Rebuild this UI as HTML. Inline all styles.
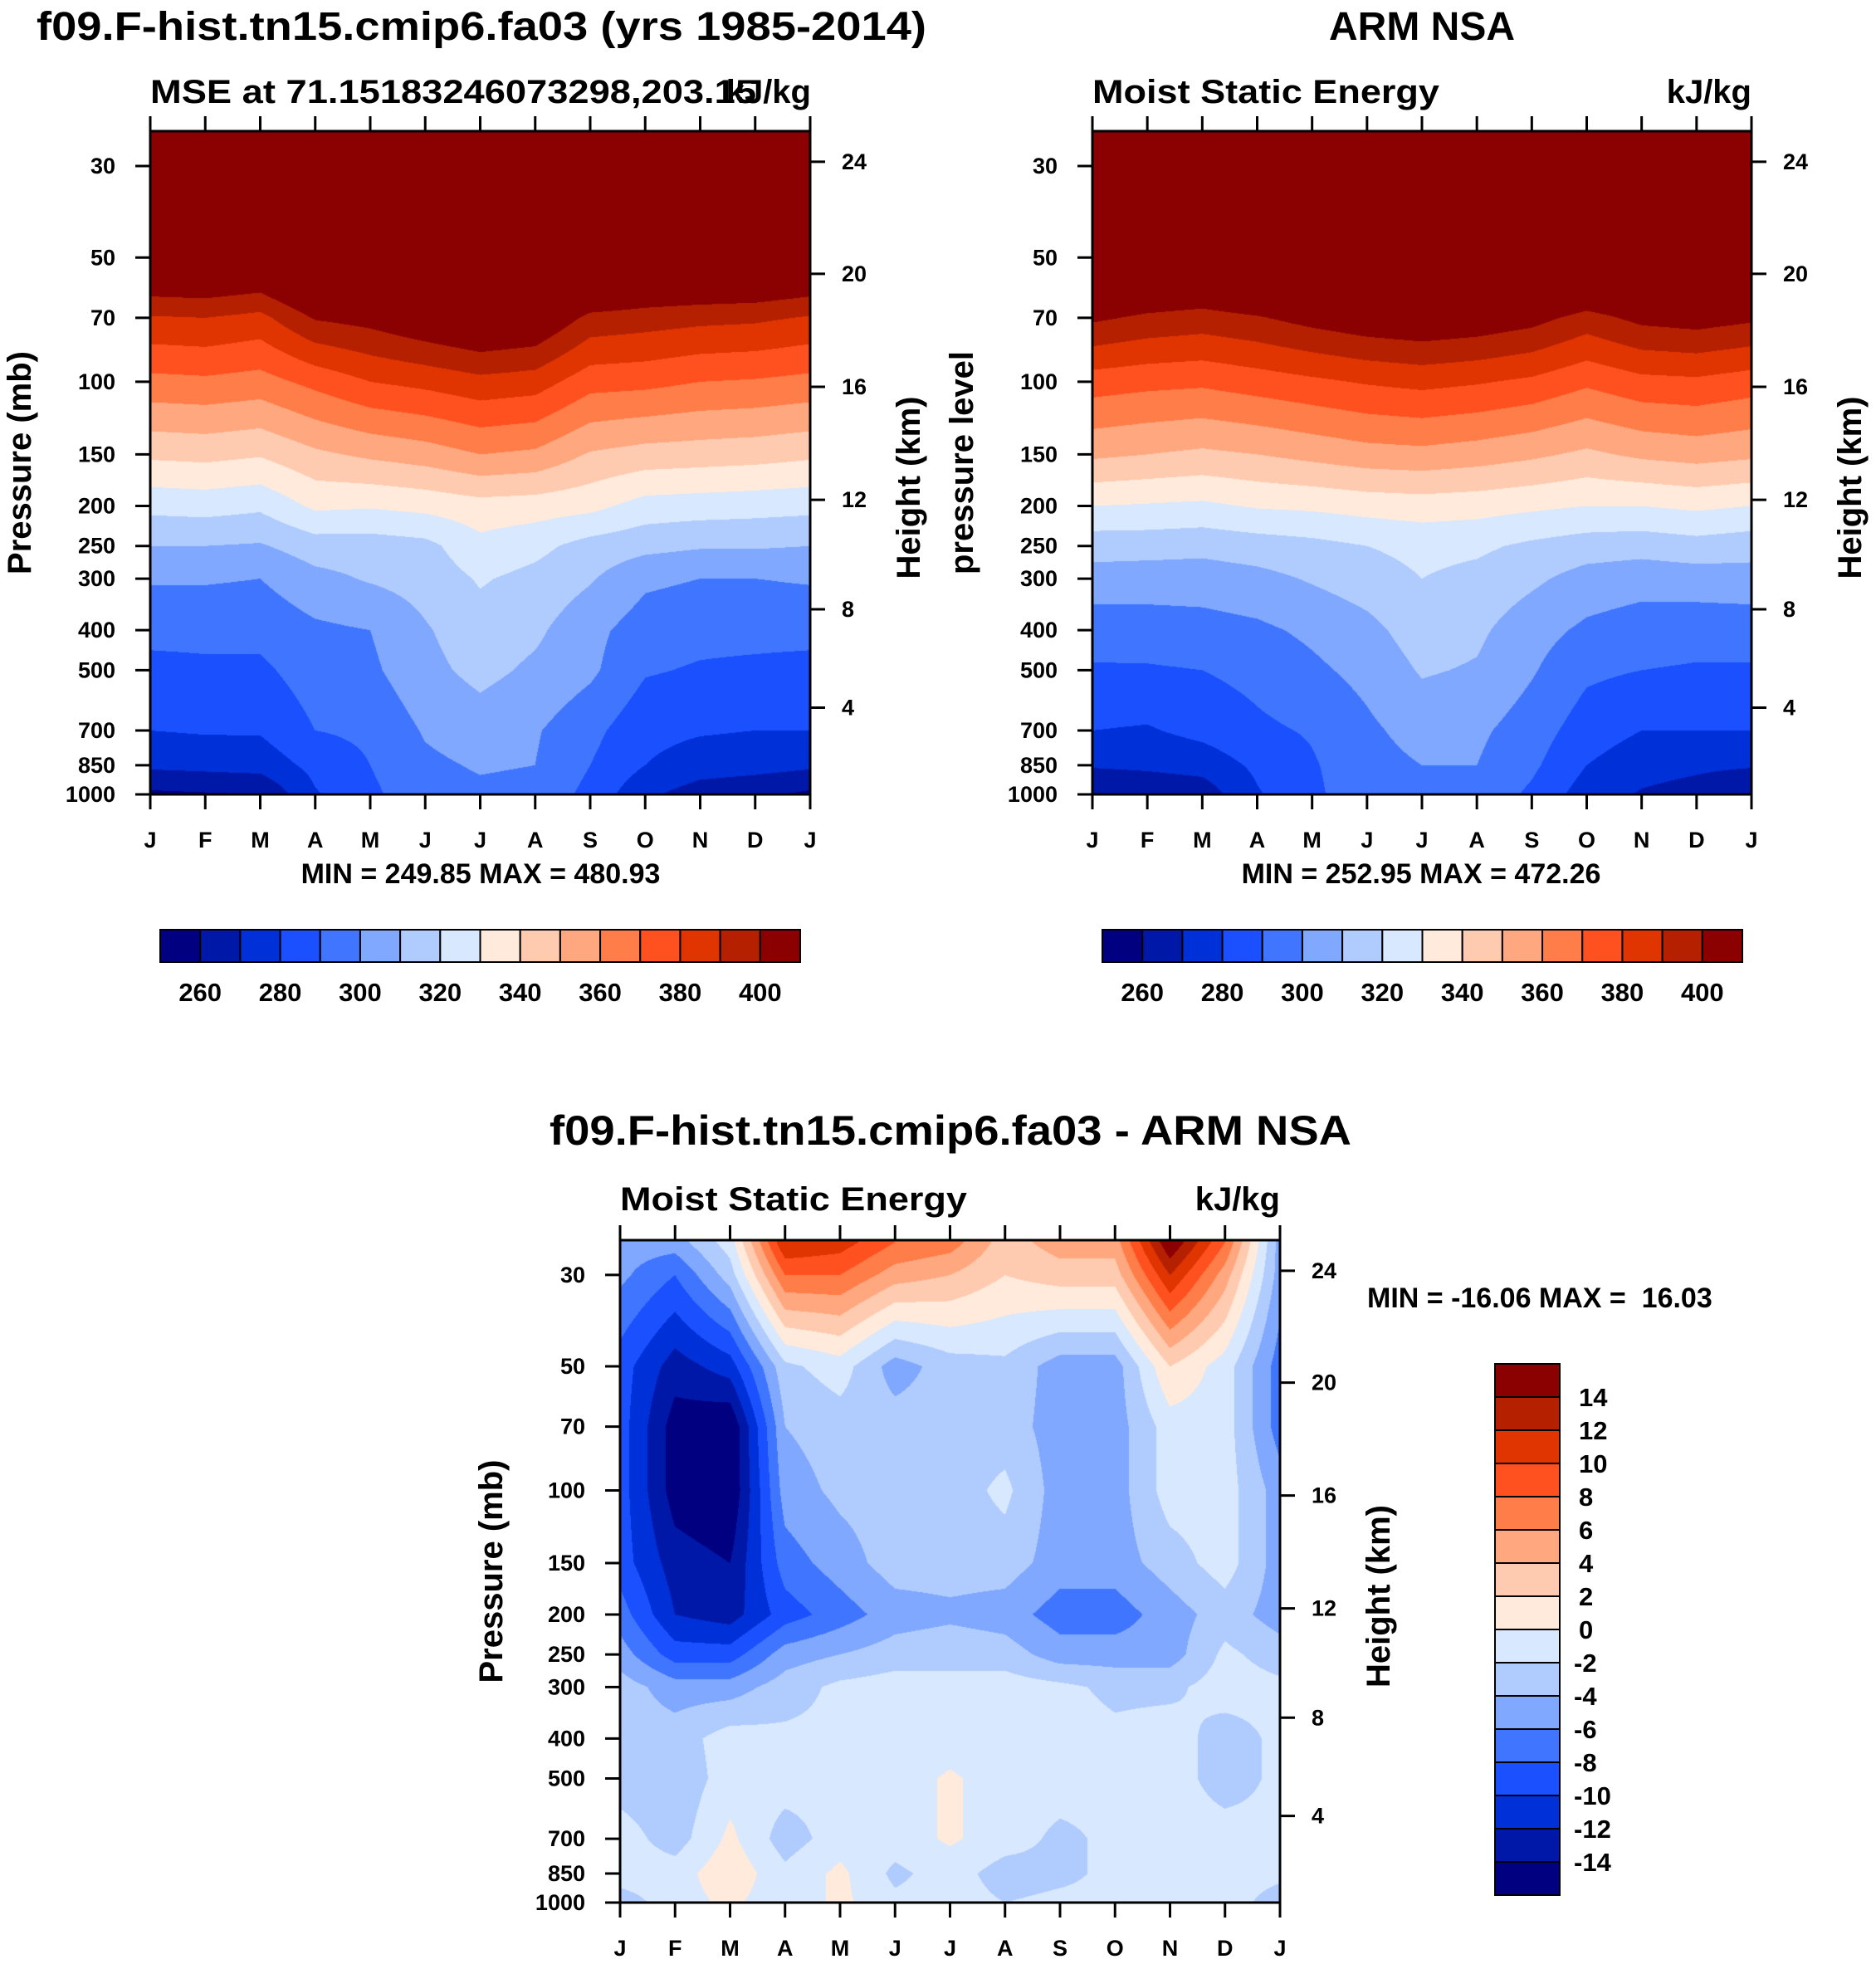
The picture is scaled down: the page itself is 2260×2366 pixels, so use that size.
<!DOCTYPE html>
<html><head><meta charset="utf-8">
<style>
html,body{margin:0;padding:0;background:#fff;}
#root{position:relative;width:2260px;height:2366px;overflow:hidden;background:#fff;}
canvas{position:absolute;}
svg{position:absolute;left:0;top:0;}
text{font-family:"Liberation Sans",Arial,sans-serif;font-weight:bold;fill:#000;}
</style></head>
<body>
<div id="root">
<canvas id="c1"></canvas>
<canvas id="c2"></canvas>
<canvas id="c3"></canvas>
<svg id="svg" width="2260" height="2366" xmlns="http://www.w3.org/2000/svg">
<text x="580" y="48" font-size="48" text-anchor="middle" textLength="1072" lengthAdjust="spacingAndGlyphs">f09.F-hist.tn15.cmip6.fa03 (yrs 1985-2014)</text>
<text x="1713" y="48" font-size="48" text-anchor="middle">ARM NSA</text>
<text x="1145" y="1379" font-size="50" text-anchor="middle" textLength="966" lengthAdjust="spacingAndGlyphs">f09.F-hist.tn15.cmip6.fa03 - ARM NSA</text>
<text x="181" y="124" font-size="40" textLength="730" lengthAdjust="spacingAndGlyphs">MSE at 71.15183246073298,203.15</text>
<text x="977" y="124" font-size="40" text-anchor="end">kJ/kg</text>
<text x="1316" y="124" font-size="40" textLength="418" lengthAdjust="spacingAndGlyphs">Moist Static Energy</text>
<text x="2110" y="124" font-size="40" text-anchor="end">kJ/kg</text>
<text x="747" y="1458" font-size="40" textLength="418" lengthAdjust="spacingAndGlyphs">Moist Static Energy</text>
<text x="1542" y="1458" font-size="40" text-anchor="end">kJ/kg</text>
<text x="579" y="1064" font-size="34" text-anchor="middle">MIN = 249.85 MAX = 480.93</text>
<text x="1712" y="1064" font-size="34" text-anchor="middle">MIN = 252.95 MAX = 472.26</text>
<text x="1647" y="1575" font-size="34" xml:space="preserve">MIN = -16.06 MAX =  16.03</text>
</svg>
</div>
<script>
const months=['J','F','M','A','M','J','J','A','S','O','N','D','J'];
const presLevels=[25,30,50,70,100,150,200,250,300,400,500,700,850,1000];
const presTicks=[30,50,70,100,150,200,250,300,400,500,700,850,1000];
const heightTicks=[24,20,16,12,8,4];
const mseLevelLabels=[260,280,300,320,340,360,380,400];
const diffLevelLabels=[14,12,10,8,6,4,2,0,-2,-4,-6,-8,-10,-12,-14];
const palette=['#000080','#0018a8','#0030d8','#1a50ff','#4076ff','#80a8ff','#b0ccff','#d8e8ff','#ffeadb','#ffcbb0','#ffa880','#ff7d48','#ff5020','#e03500','#b52000','#8b0000'];
const modelJan=[475,460,420,389,367,342,323,310,301,293,287,280,272,258];
const modelFeb=[475,460,421,390,368,343,324,310,301,293,288,281,273,259];
const modelMar=[475,458,418,387,366,341,322,309,300,293,288,281,274,260];
const modelApr=[478,465,430,401,373,348,332,315,307,298,295,290,283,279];
const modelMay=[480,470,440,404,380,352,331,315,311,300,298,292,290,288];
const modelJun=[480,472,445,410,383,355,333,317,314,309,307,301,298,296];
const modelJul=[481,474,450,415,387,360,336,327,321,316,313,305,301,298];
const modelAug=[480,472,445,412,385,358,335,323,317,312,308,301,300,297];
const modelSep=[479,468,432,397,374,349,333,316,311,303,302,293,290,287];
const modelOct=[477,463,425,395,373,346,326,313,302,295,291,283,280,272];
const modelNov=[476,462,425,393,370,345,325,311,300,293,289,281,275,265];
const modelDec=[476,462,424,392,369,344,324,311,300,293,288,280,274,262];
const modelData=[modelJan,modelFeb,modelMar,modelApr,modelMay,modelJun,modelJul,modelAug,modelSep,modelOct,modelNov,modelDec,modelJan];
const obsJan=[472,462,425,402,375,352,330,314,306,294,289,280,271,260];
const obsFeb=[470,460,424,398,373,350,329,314,305,295,289,279,272,262];
const obsMar=[470,458,422,396,372,348,328,313,305,296,290,283,274,264];
const obsApr=[470,460,428,399,375,350,331,315,307,298,293,288,282,279];
const obsMay=[471,464,435,404,378,353,332,317,311,302,298,291,289,288];
const obsJun=[472,466,442,408,381,356,334,320,315,307,303,298,296,296];
const obsJul=[472,467,445,410,383,357,335,323,320,315,311,304,300,297];
const obsAug=[472,466,443,408,381,355,334,322,317,312,309,302,300,297];
const obsSep=[471,464,438,404,378,352,332,318,312,304,301,295,292,288];
const obsOct=[471,462,430,396,372,348,330,315,306,298,292,285,280,275];
const obsNov=[471,462,428,403,377,352,330,314,304,295,290,280,274,269];
const obsDec=[472,463,430,405,378,354,332,316,305,294,289,280,272,266];
const obsData=[obsJan,obsFeb,obsMar,obsApr,obsMay,obsJun,obsJul,obsAug,obsSep,obsOct,obsNov,obsDec,obsJan];
const diffJan=[-5,-5.5,-9,-9,-9,-9,-7,-5,-3,-3,-3,-1,-1,-3];
const diffFeb=[-5,-8,-13,-15,-15,-13,-12,-9,-5,-3,-3.5,-3,-1,-1];
const diffMar=[-1,-3,-11,-16,-16,-14,-13,-9,-5,-1,-1,0.5,1.5,0.5];
const diffApr=[12,8,-2.5,-4,-5,-7,-9,-5,-3,-1.5,-1,-3,-1.5,-1.5];
const diffMay=[11,8,-1,-3,-3.5,-5,-7,-4,-1.5,-1.5,-1.5,-1,0.5,0.5];
const diffJun=[8,5,-5,-3,-3,-3,-5,-3,-1,-1,-1,-1,-2.5,-1.5];
const diffJul=[7,4,-3,-3,-3,-3,-4.5,-2.5,-1.5,-1,0.3,0.3,-1,-1];
const diffAug=[3,2,-2.5,-3,-1.5,-3,-5,-3,-1,-1,-1,-1,-3,-2];
const diffSep=[5,3,-5,-5,-5,-5,-7,-5,-1.5,-1,-1,-2.5,-2.5,-1.5];
const diffOct=[5,3,-5,-5,-5,-5,-7,-5,-2.5,-1.5,-1.5,-1.5,-1.5,-1.5];
const diffNov=[16,12,2,-1,-1,-3,-5,-5,-2.5,-1,-1,-1,-1,-1.5];
const diffDec=[8,5,-1,-1,-1,-1,-3,-1.5,-1,-3,-3,-1,-1,-1];
const diffJan2=[-5,-5,-7,-7,-5,-5,-5,-3,-1.5,-1.5,-1.5,-1.5,-1.5,-3];
const diffData=[diffJan,diffFeb,diffMar,diffApr,diffMay,diffJun,diffJul,diffAug,diffSep,diffOct,diffNov,diffDec,diffJan2];

const NS='http://www.w3.org/2000/svg';
const svg=document.getElementById('svg');
const PTOP=24.7, LT=Math.log10(PTOP);
function mk(tag,attrs,txt){const e=document.createElementNS(NS,tag);for(const k in attrs)e.setAttribute(k,attrs[k]);if(txt!==undefined)e.textContent=txt;svg.appendChild(e);return e;}
function stdP(zkm){const z=zkm*1000;if(z<=11000)return 1013.25*Math.pow(1-2.25577e-5*z,5.25588);if(z<=20000)return 226.32*Math.exp(-(z-11000)/6341.6);return 54.75*Math.pow(1+(z-20000)/216650,-34.163);}
function mseIdx(v){return Math.max(0,Math.min(15,Math.floor((v-260)/10)+1));}
function diffIdx(v){return Math.max(0,Math.min(15,Math.floor((v+14)/2)+1));}
const rgb=palette.map(h=>[parseInt(h.substr(1,2),16),parseInt(h.substr(3,2),16),parseInt(h.substr(5,2),16)]);
const logLev=presLevels.map(p=>Math.log10(p));

function panel(id,P,data,idxFn,leftTitle,leftTitleX,rightTitleX,prefix){
  const W=P.R-P.L,H=P.B-P.T;
  const xs=m=>P.L+m/12*W;
  const ys=p=>P.T+(Math.log10(p)-LT)/(3-LT)*H;
  const cv=document.getElementById(id);
  cv.width=W;cv.height=H;cv.style.left=P.L+'px';cv.style.top=P.T+'px';
  const ctx=cv.getContext('2d');const img=ctx.createImageData(W,H);
  for(let py=0;py<H;py++){
    const lp=LT+(py+0.5)/H*(3-LT);
    let i=0;while(i<logLev.length-2&&lp>logLev[i+1])i++;
    let fy=(lp-logLev[i])/(logLev[i+1]-logLev[i]);fy=Math.max(0,Math.min(1,fy));
    for(let px=0;px<W;px++){
      const m=(px+0.5)/W*12;let j=Math.min(11,Math.floor(m));const fx=m-j;
      const a=data[j][i]*(1-fy)+data[j][i+1]*fy;
      const b=data[j+1][i]*(1-fy)+data[j+1][i+1]*fy;
      const c=rgb[idxFn(a*(1-fx)+b*fx)];
      const o=(py*W+px)*4;img.data[o]=c[0];img.data[o+1]=c[1];img.data[o+2]=c[2];img.data[o+3]=255;
    }
  }
  ctx.putImageData(img,0,0);
  const fr=mk('rect',{x:P.L,y:P.T,width:W,height:H,fill:'none',stroke:'#000','stroke-width':3});
  
  
  presTicks.forEach(p=>{
    const y=ys(p);
    const t=mk('line',{x1:P.L-18,x2:P.L,y1:y,y2:y,stroke:'#000','stroke-width':3});
    
    
    const l=mk('text',{x:P.L-42,y:y+9,'font-size':27,'text-anchor':'end'},String(p));
    
    
  });
  heightTicks.forEach(h=>{
    const y=ys(stdP(h));
    const t=mk('line',{x1:P.R,x2:P.R+18,y1:y,y2:y,stroke:'#000','stroke-width':3});
    
    
    const l=mk('text',{x:P.R+38,y:y+9,'font-size':27},String(h));
    
    
  });
  months.forEach((mn,k)=>{
    const x=xs(k);
    const t1=mk('line',{x1:x,x2:x,y1:P.T-18,y2:P.T,stroke:'#000','stroke-width':3});
    
    
    const t2=mk('line',{x1:x,x2:x,y1:P.B,y2:P.B+18,stroke:'#000','stroke-width':3});
    
    
    const l=mk('text',{x:x,y:P.B+64,'font-size':27,'text-anchor':'middle'},mn);
    
    
  });
  const cy=(P.T+P.B)/2;
  const lt=mk('text',{x:leftTitleX,y:cy,'font-size':40,'text-anchor':'middle',transform:'rotate(-90 '+leftTitleX+' '+cy+')'},leftTitle);
  
  
  const rt=mk('text',{x:rightTitleX,y:cy+30,'font-size':40,'text-anchor':'middle',transform:'rotate(-90 '+rightTitleX+' '+(cy+30)+')'},'Height (km)');
  
  
}
panel('c1',{L:181,R:976,T:158,B:957},modelData,mseIdx,'Pressure (mb)',37,1108,'model');
panel('c2',{L:1316,R:2110,T:158,B:957},obsData,mseIdx,'pressure level',1172,2242,'obs');
panel('c3',{L:747,R:1542,T:1494,B:2292},diffData,diffIdx,'Pressure (mb)',605,1674,'diff');

function hbar(x0,x1,y0,y1,prefix){
  const bw=(x1-x0)/16;
  palette.forEach((c,k)=>{
    const r=mk('rect',{x:x0+k*bw,y:y0,width:bw,height:y1-y0,fill:c,stroke:'#000','stroke-width':2});
    
    
  });
  mseLevelLabels.forEach(v=>{
    const b=(v-260)/10+1;
    const l=mk('text',{x:x0+b*bw,y:y1+47,'font-size':31,'text-anchor':'middle'},String(v));
    
    
  });
}
hbar(193,964,1120,1159,'model');
hbar(1328,2099,1120,1159,'obs');
(function(){
  const x0=1801,x1=1879,y0=1643,y1=2283,bh=(y1-y0)/16;
  palette.slice().reverse().forEach((c,k)=>{
    const r=mk('rect',{x:x0,y:y0+k*bh,width:x1-x0,height:bh,fill:c,stroke:'#000','stroke-width':2});
    
    
  });
  diffLevelLabels.forEach(v=>{
    const b=(14-v)/2+1;
    const l=mk('text',{x:x0+(v<0?95:101),y:y0+b*bh+11,'font-size':31},String(v));
    
    
  });
})();
</script>
</body></html>
